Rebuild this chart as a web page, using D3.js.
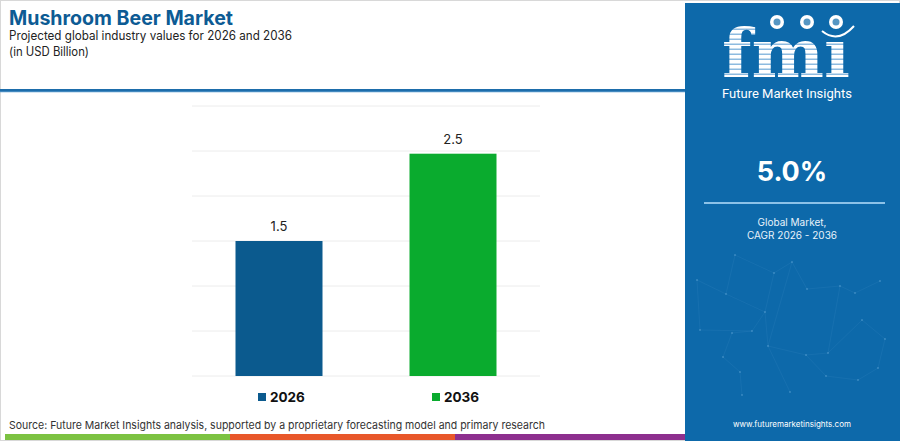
<!DOCTYPE html>
<html><head><meta charset="utf-8">
<script src="https://cdn.jsdelivr.net/npm/d3@7"></script>
<style>body{margin:0;background:#fff;}svg{display:block;font-family:Inter,"Open Sans",sans-serif;}</style>
</head><body>
<svg id="c" width="900" height="441"></svg>
<script>
const categories = ["2026", "2036"];
const values = [1.5, 2.47];
const yTicks = [0, 0.5, 1, 1.5, 2, 2.5, 3];
const colors = ["#0b5a8e", "#0aab2e"];
const cagr = "5.0%";

const svg = d3.select("#c");
const W = 900, H = 441;

// frame
svg.append("rect").attr("x",0.5).attr("y",0.5).attr("width",W-1).attr("height",H-1).attr("fill","#fff").attr("stroke","#d8d8d8");

// header
svg.append("text").attr("x",9).attr("y",25).attr("fill","#0d5b94").attr("font-size",20).attr("font-weight",700)
  .attr("textLength",224).attr("lengthAdjust","spacingAndGlyphs").text("Mushroom Beer Market");
svg.append("text").attr("x",9).attr("y",40).attr("fill","#222").attr("font-size",12.5)
  .attr("textLength",283).attr("lengthAdjust","spacingAndGlyphs").text("Projected global industry values for 2026 and 2036");
svg.append("text").attr("x",9).attr("y",56).attr("fill","#222").attr("font-size",12.5)
  .attr("textLength",80).attr("lengthAdjust","spacingAndGlyphs").text("(in USD Billion)");
svg.append("rect").attr("x",0).attr("y",89).attr("width",690).attr("height",3).attr("fill","#1d6dab");
svg.append("rect").attr("x",0).attr("y",91.5).attr("width",690).attr("height",0.8).attr("fill","#6aa6d4");

// chart
const x = d3.scaleBand().domain(categories).range([192, 540]).paddingInner(0.5).paddingOuter(0.25);
const y = d3.scaleLinear().domain([0, 3]).range([376, 106]);

svg.append("g").selectAll("line").data(yTicks).join("line")
  .attr("x1",192).attr("x2",540).attr("y1",d=>y(d)).attr("y2",d=>y(d))
  .attr("stroke","#ececec").attr("stroke-width",1);

svg.append("g").selectAll("rect").data(values).join("rect")
  .attr("x",(d,i)=>x(categories[i])).attr("width",x.bandwidth())
  .attr("y",d=>y(d)).attr("height",d=>y(0)-y(d))
  .attr("fill",(d,i)=>colors[i]);

svg.append("g").selectAll("text").data(values).join("text")
  .attr("x",(d,i)=>x(categories[i])+x.bandwidth()/2).attr("y",d=>y(d)-10)
  .attr("text-anchor","middle").attr("font-size",13).attr("fill","#222")
  .text(d=>d3.format(".1f")(d));

// legend
const lg = svg.append("g").selectAll("g").data(categories).join("g")
  .attr("transform",(d,i)=>`translate(${x(d)+x.bandwidth()/2-21},0)`);
lg.append("rect").attr("x",0).attr("y",393).attr("width",8).attr("height",8).attr("fill",(d,i)=>colors[i]);
lg.append("text").attr("x",12).attr("y",401.5).attr("font-size",13.5).attr("font-weight",700).attr("fill","#111").text(d=>d);

// source
svg.append("text").attr("x",9).attr("y",429).attr("font-size",11).attr("fill","#333")
  .attr("textLength",536).attr("lengthAdjust","spacingAndGlyphs")
  .text("Source: Future Market Insights analysis, supported by a proprietary forecasting model and primary research");

// bottom strip
[["#7cc242",5,230],["#e8572a",230,455],["#8d2f8e",455,690]].forEach(s=>{
  svg.append("rect").attr("x",s[1]).attr("y",434).attr("width",s[2]-s[1]).attr("height",6).attr("fill",s[0]);
});

// right panel
const px = 685;
svg.append("rect").attr("x",px).attr("y",3).attr("width",W-px).attr("height",H-3).attr("fill","#0d69aa");

// network decoration
const net = svg.append("g").attr("stroke","#5fa3d6").attr("stroke-opacity",0.2).attr("stroke-width",0.6);
const pts = [[697,280],[726,294],[735,255],[774,273],[792,262],[807,289],[840,286],[880,281],[855,293],[765,312],[752,331],[732,333],[723,357],[740,372],[768,346],[806,355],[828,353],[862,320],[885,339],[878,368],[858,380],[826,376],[742,395],[790,392],[700,330]];
const links = [[0,1],[1,2],[2,3],[3,4],[4,5],[5,6],[6,8],[8,7],[1,9],[9,10],[10,11],[11,12],[12,13],[9,14],[14,15],[15,16],[16,17],[17,18],[18,19],[19,20],[20,21],[21,15],[13,22],[14,23],[10,24],[24,0],[3,9],[6,16],[4,14]];
links.forEach(l=>net.append("line").attr("x1",pts[l[0]][0]).attr("y1",pts[l[0]][1]).attr("x2",pts[l[1]][0]).attr("y2",pts[l[1]][1]));
svg.append("g").selectAll("circle").data(pts).join("circle").attr("cx",d=>d[0]).attr("cy",d=>d[1]).attr("r",1.1).attr("fill","#7dbbe6").attr("opacity",0.35);

// logo
const defs = svg.append("defs");
const pat = defs.append("pattern").attr("id","stripes").attr("patternUnits","userSpaceOnUse").attr("width",10).attr("height",5);
pat.append("rect").attr("width",10).attr("height",5).attr("fill","#fff");
pat.append("rect").attr("y",3.5).attr("width",10).attr("height",1.5).attr("fill","#8dbbe0");
svg.append("text").attr("x",786).attr("y",77).attr("text-anchor","middle").attr("font-size",68).attr("font-weight",700)
  .attr("font-family","'DejaVu Serif', 'Liberation Serif', serif").attr("textLength",128).attr("lengthAdjust","spacingAndGlyphs")
  .attr("fill","url(#stripes)").text("fmı");
[[777,22],[807,22],[836,22]].forEach(c=>{
  svg.append("circle").attr("cx",c[0]).attr("cy",c[1]).attr("r",7).attr("fill","#fff");
  svg.append("circle").attr("cx",c[0]).attr("cy",c[1]).attr("r",3.5).attr("fill","#0d69aa").attr("opacity",0.7);
});
svg.append("path").attr("d","M822,31 Q838,44 854,26").attr("fill","none").attr("stroke","#fff").attr("stroke-width",2);
svg.append("text").attr("x",722).attr("y",98).attr("font-size",12.5).attr("fill","#fff").attr("font-family","Roboto, sans-serif").attr("font-weight",400)
  .attr("textLength",130).attr("lengthAdjust","spacingAndGlyphs").text("Future Market Insights");

svg.append("text").attr("x",792).attr("y",181).attr("text-anchor","middle").attr("font-size",27).attr("font-weight",700).attr("fill","#fff").text(cagr);
svg.append("rect").attr("x",704).attr("y",202).attr("width",181).attr("height",2).attr("fill","#8cc2e8");
svg.append("text").attr("x",792).attr("y",226).attr("text-anchor","middle").attr("font-size",10).attr("fill","#e8f2fa").text("Global Market,");
svg.append("text").attr("x",792).attr("y",239).attr("text-anchor","middle").attr("font-size",10).attr("fill","#e8f2fa").text("CAGR 2026 - 2036");
svg.append("text").attr("x",792).attr("y",427).attr("text-anchor","middle").attr("font-size",8).attr("fill","#fff").text("www.futuremarketinsights.com");
</script>
</body></html>
